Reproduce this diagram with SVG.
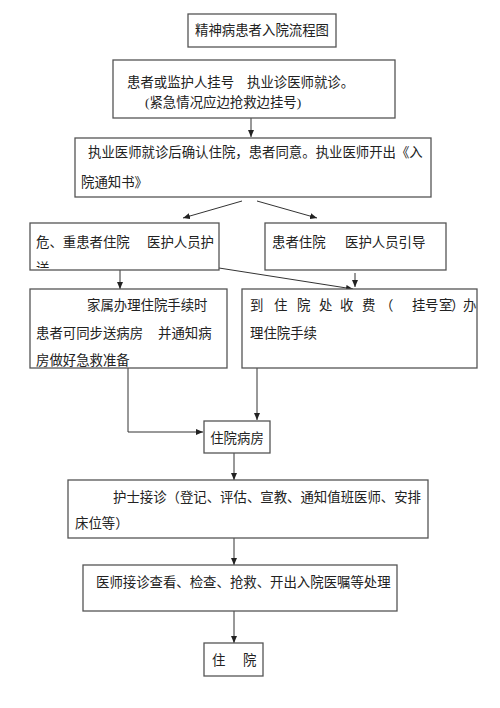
<svg xmlns="http://www.w3.org/2000/svg" width="500" height="708" viewBox="0 0 500 708">
<style>
.box{fill:#fff;stroke:#555;stroke-width:1.3}
.t{font-family:"Liberation Serif","Noto Sans CJK SC",serif;font-size:13.4px;fill:#222}
.c{fill:none;stroke:#333;stroke-width:1}
</style>
<defs>
<marker id="ah" markerWidth="7" markerHeight="6" refX="7" refY="3" orient="auto" markerUnits="userSpaceOnUse">
<path d="M0,0 L7,3 L0,6 Z" fill="#222"/>
</marker>
<clipPath id="clip4"><rect x="30" y="223" width="189" height="45"/></clipPath>
</defs>
<rect width="500" height="708" fill="#fff"/>
<g id="connectors">
<line class="c" x1="251" y1="118" x2="251" y2="137" marker-end="url(#ah)"/>
<line class="c" x1="242" y1="201" x2="183" y2="218" marker-end="url(#ah)"/>
<line class="c" x1="257" y1="201" x2="317" y2="218" marker-end="url(#ah)"/>
<line class="c" x1="120" y1="270" x2="120" y2="289" marker-end="url(#ah)"/>
<line class="c" x1="355" y1="273" x2="355" y2="287" marker-end="url(#ah)"/>
<line class="c" x1="219" y1="268" x2="353" y2="289" marker-end="url(#ah)"/>
<polyline class="c" points="128,368 128,432 203,432" marker-end="url(#ah)"/>
<line class="c" x1="257" y1="368" x2="257" y2="420" marker-end="url(#ah)"/>
<line class="c" x1="234" y1="453" x2="234" y2="480" marker-end="url(#ah)"/>
<line class="c" x1="234" y1="538" x2="234" y2="565" marker-end="url(#ah)"/>
<line class="c" x1="234" y1="611" x2="234" y2="643" marker-end="url(#ah)"/>
</g>
<g id="n1"><rect class="box" x="188" y="14" width="148" height="33"/><text class="t" x="262" y="35" text-anchor="middle">精神病患者入院流程图</text></g>
<g id="n2"><rect class="box" x="113" y="60" width="282" height="58"/><text class="t" x="127" y="87">患者或监护人挂号</text><text class="t" x="247" y="87">执业诊医师就诊。</text><text class="t" x="145" y="107">(紧急情况应边抢救边挂号)</text></g>
<g id="n3"><rect class="box" x="75" y="138" width="356" height="59"/><text class="t" x="88" y="157">执业医师就诊后确认住院，患者同意。执业医师开出《入</text><text class="t" x="81" y="187">院通知书》</text></g>
<g id="n4"><rect class="box" x="30" y="223" width="189" height="47"/><text class="t" x="36" y="247">危、重患者住院</text><text class="t" x="147" y="247">医护人员护</text><text class="t" x="36" y="273" clip-path="url(#clip4)">送</text></g>
<g id="n5"><rect class="box" x="265" y="223" width="181" height="47"/><text class="t" x="272" y="247">患者住院</text><text class="t" x="345" y="247">医护人员引导</text></g>
<g id="n6"><rect class="box" x="30" y="289" width="197" height="79"/><text class="t" x="87" y="310">家属办理住院手续时</text><text class="t" x="36" y="338">患者可同步送病房</text><text class="t" x="158" y="338">并通知病</text><text class="t" x="36" y="365">房做好急救准备</text></g>
<g id="n7"><rect class="box" x="242" y="289" width="235" height="79"/><text class="t" y="310" x="250 274 297 319 340 362 380 412 425 439 451 463">到住院处收费（挂号室）办</text><text class="t" x="250" y="338">理住院手续</text></g>
<g id="n8"><rect class="box" x="204" y="421" width="66" height="32"/><text class="t" x="237" y="443" text-anchor="middle">住院病房</text></g>
<g id="n9"><rect class="box" x="68" y="480" width="360" height="58"/><text class="t" x="113" y="502">护士接诊（登记、评估、宣教、通知值班医师、安排</text><text class="t" x="75" y="528">床位等）</text></g>
<g id="n10"><rect class="box" x="83" y="565" width="314" height="46"/><text class="t" x="96" y="587">医师接诊查看、检查、抢救、开出入院医嘱等处理</text></g>
<g id="n11"><rect class="box" x="204" y="643" width="59" height="33"/><text class="t" x="212" y="665">住</text><text class="t" x="243" y="665">院</text></g>
</svg>
